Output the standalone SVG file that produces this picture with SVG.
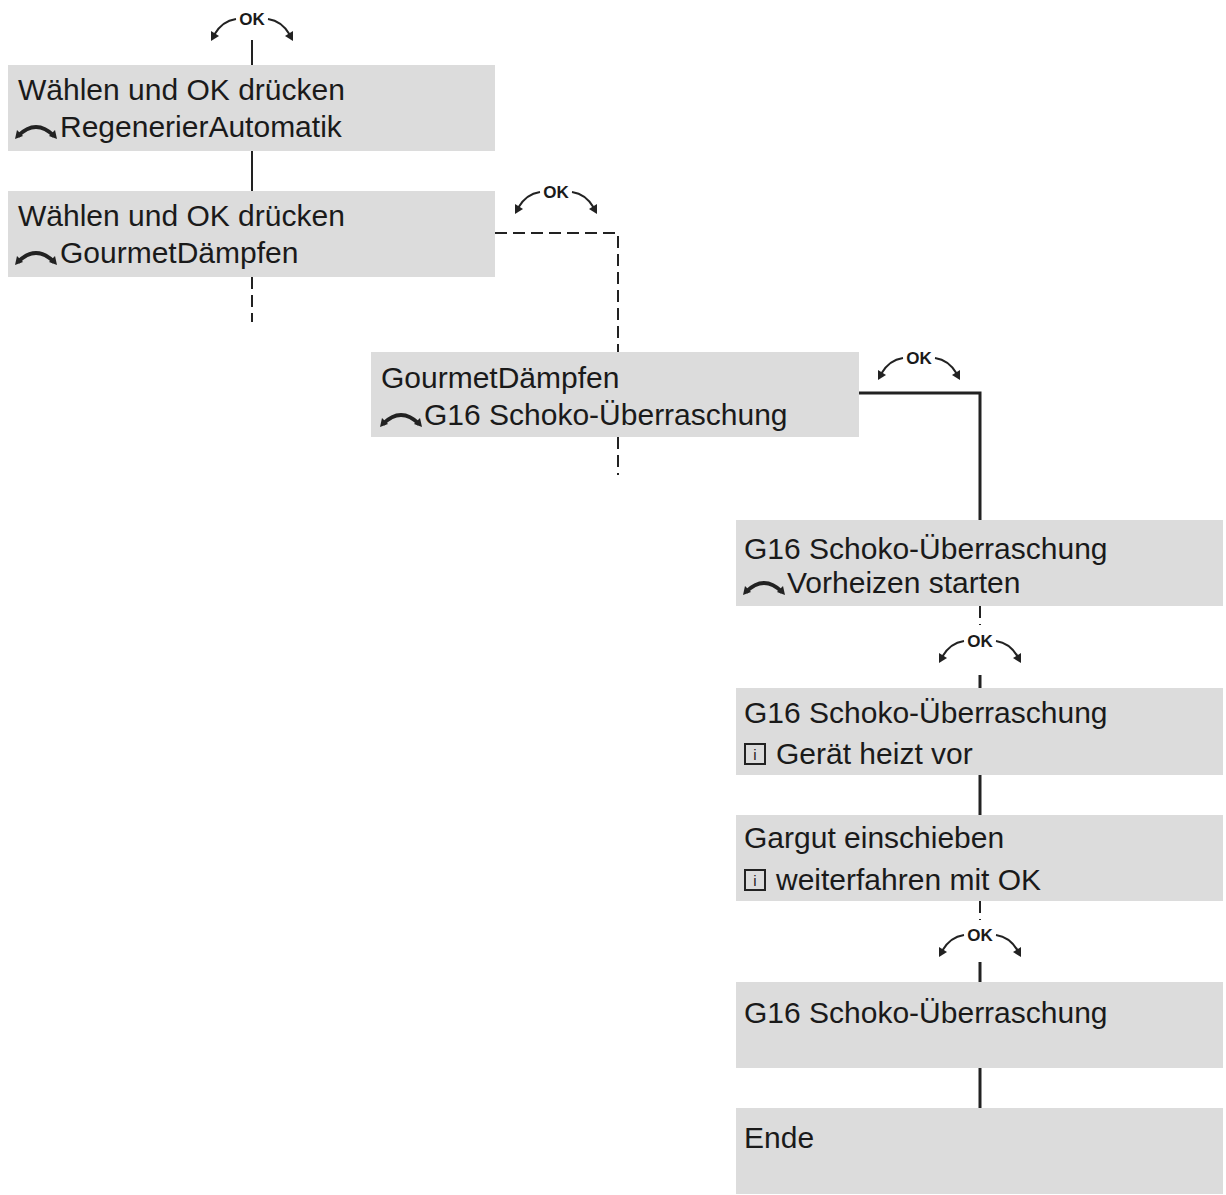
<svg xmlns="http://www.w3.org/2000/svg" width="1226" height="1195" viewBox="0 0 1226 1195">
<style>
.b{fill:#dcdcdc}
.t{font-family:"Liberation Sans",Arial,sans-serif;font-size:30px;fill:#1a1a1a}
.ok{font-family:"Liberation Sans",Arial,sans-serif;font-size:17px;font-weight:bold;fill:#1a1a1a}
.c{stroke:#222;stroke-width:2;fill:none}
.d{stroke:#222;stroke-width:2;fill:none;stroke-dasharray:12,6}
.k{stroke:#222;stroke-width:3;fill:none}
.a{stroke:#222;stroke-width:2.5;fill:none;marker-start:url(#ah);marker-end:url(#ah)}
</style>
<defs>
<marker id="ah" viewBox="0 0 10 10" refX="5" refY="5" markerWidth="3" markerHeight="3" orient="auto-start-reverse"><path d="M0,0L10,5L0,10z" fill="#222"/></marker>
<g id="okc">
<text class="ok" x="0" y="0" text-anchor="middle">OK</text>
<path class="c" stroke-width="2.5" d="M-16,-6 Q-30,-4 -38,10"/>
<path class="c" stroke-width="2.5" d="M16,-6 Q30,-4 38,10"/>
<path d="M-41,16 L-41,6 L-33,11z" fill="#222"/>
<path d="M41,16 L41,6 L33,11z" fill="#222"/>
</g>
<g id="rot">
<path d="M2,12 Q20,-6 38,12" stroke="#222" stroke-width="4" fill="none"/>
<path d="M-1,15 L1,6 L7,12z" fill="#222"/>
<path d="M41,15 L39,6 L33,12z" fill="#222"/>
</g>
<g id="info">
<rect x="1" y="-20" width="20" height="20" fill="none" stroke="#222" stroke-width="2"/>
<text x="11" y="-4" font-family="Liberation Sans,sans-serif" font-size="15" text-anchor="middle" fill="#222">i</text>
</g>
</defs>
<g id="connectors">
<line class="c" x1="252" y1="40" x2="252" y2="65"/>
<line class="c" x1="252" y1="151" x2="252" y2="191"/>
<line class="d" x1="252" y1="277" x2="252" y2="322"/>
<polyline class="d" points="495,233 618,233 618,352"/>
<line class="d" x1="618" y1="437" x2="618" y2="475"/>
<polyline class="k" points="859,393 980,393 980,520"/>
<line class="d" x1="980" y1="606" x2="980" y2="625"/>
<line class="k" x1="980" y1="675" x2="980" y2="688"/>
<line class="k" x1="980" y1="775" x2="980" y2="815"/>
<line class="d" x1="980" y1="901" x2="980" y2="920"/>
<line class="k" x1="980" y1="962" x2="980" y2="982"/>
<line class="k" x1="980" y1="1068" x2="980" y2="1108"/>
<use href="#okc" x="252" y="25"/>
<use href="#okc" x="556" y="198"/>
<use href="#okc" x="919" y="364"/>
<use href="#okc" x="980" y="647"/>
<use href="#okc" x="980" y="941"/>
</g>
<g id="n1"><rect class="b" x="8" y="65" width="487" height="86"/>
<text class="t" x="18" y="100">Wählen <tspan fill="#1a1a1a" dx="0">und OK drücken</tspan></text>
<use href="#rot" x="16" y="124"/><text class="t" x="60" y="137">RegenerierAutomatik</text></g>
<g id="n2"><rect class="b" x="8" y="191" width="487" height="86"/>
<text class="t" x="18" y="226">Wählen und OK drücken</text>
<use href="#rot" x="16" y="250"/><text class="t" x="60" y="263">GourmetDämpfen</text></g>
<g id="n3"><rect class="b" x="371" y="352" width="488" height="85"/>
<text class="t" x="381" y="388">GourmetDämpfen</text>
<use href="#rot" x="381" y="412"/><text class="t" x="424" y="425">G16    Schoko-Überraschung</text></g>
<g id="n4"><rect class="b" x="736" y="520" width="487" height="86"/>
<text class="t" x="744" y="559">G16 Schoko-Überraschung</text>
<use href="#rot" x="744" y="580"/><text class="t" x="787" y="593">Vorheizen    starten</text></g>
<g id="n5"><rect class="b" x="736" y="688" width="487" height="87"/>
<text class="t" x="744" y="723">G16 Schoko-Überraschung</text>
<use href="#info" x="744" y="764"/><text class="t" x="776" y="764">Gerät heizt vor</text></g>
<g id="n6"><rect class="b" x="736" y="815" width="487" height="86"/>
<text class="t" x="744" y="848">Gargut einschieben</text>
<use href="#info" x="744" y="890"/><text class="t" x="776" y="890">weiterfahren mit OK</text></g>
<g id="n7"><rect class="b" x="736" y="982" width="487" height="86"/>
<text class="t" x="744" y="1023">G16 Schoko-Überraschung</text></g>
<g id="n8"><rect class="b" x="736" y="1108" width="487" height="86"/>
<text class="t" x="744" y="1148">Ende</text></g>
</svg>
